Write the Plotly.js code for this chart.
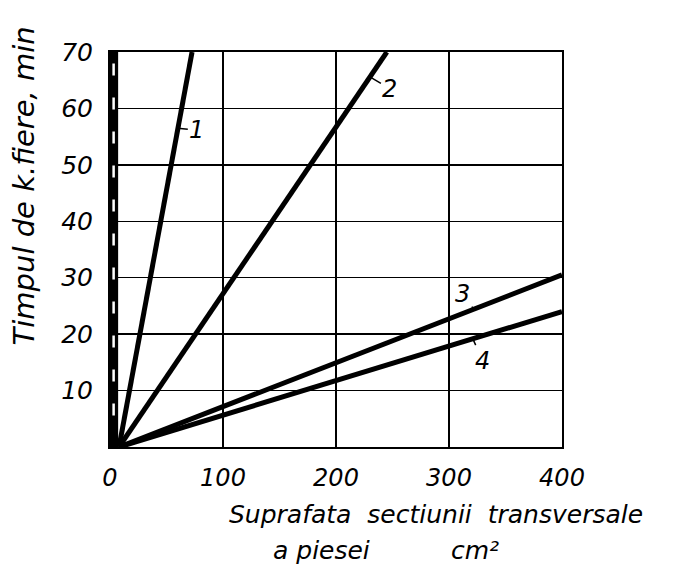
<!DOCTYPE html>
<html><head><meta charset="utf-8">
<script src="https://cdn.plot.ly/plotly-3.0.1.min.js"></script>
<style>body{margin:0;background:#fff}#c{width:677px;height:566px}</style>
</head><body><div id="c"></div>
<script>
// Lines start near x≈8 cm², t=0 and end at the frame
const line1X = [8, 72.6];
const line1Y = [0, 70];
const line2X = [8, 245];
const line2Y = [0, 70];
const line3X = [8, 400];
const line3Y = [0, 30.5];
const line4X = [8, 400];
const line4Y = [0, 24];
const xTicks = [0, 100, 200, 300, 400];
const yTicks = [10, 20, 30, 40, 50, 60, 70];
const lineLabels = ['1', '2', '3', '4'];
const labelPts = [[60, 56.5], [230, 65.6], [322, 24.4], [321, 19.2]];

const font = {family: 'DejaVu Sans', color: '#000'};
const mk = (x, y) => ({x, y, type: 'scatter', mode: 'lines', line: {color: '#000', width: 5}, showlegend: false, hoverinfo: 'skip'});
const traces = [mk(line1X, line1Y), mk(line2X, line2Y), mk(line3X, line3Y), mk(line4X, line4Y)];

const offs = [[19, 2], [20, 12], [-11, -15], [10, 22]];
const annotations = lineLabels.map((t, i) => ({
  x: labelPts[i][0], y: labelPts[i][1], xref: 'x', yref: 'y', text: '<i>' + t + '</i>',
  showarrow: true, arrowhead: 0, arrowwidth: 1.5, arrowcolor: '#000', ax: offs[i][0], ay: offs[i][1],
  standoff: 0, font: Object.assign({}, font, {size: 24})
}));
annotations.push({xref: 'paper', yref: 'paper', x: -0.19, y: 0.66, xanchor: 'center', yanchor: 'middle',
  text: '<i>Timpul de k.fiere, min</i>', textangle: -90, showarrow: false, font: Object.assign({}, font, {size: 29})});
annotations.push({xref: 'paper', yref: 'paper', x: 0.258, y: -0.172, xanchor: 'left', yanchor: 'middle',
  text: '<i>Suprafata  sectiunii  transversale</i>', showarrow: false, font: Object.assign({}, font, {size: 25})});
annotations.push({xref: 'paper', yref: 'paper', x: 0.356, y: -0.262, xanchor: 'left', yanchor: 'middle',
  text: '<i>a piesei</i>', showarrow: false, font: Object.assign({}, font, {size: 25})});
annotations.push({xref: 'paper', yref: 'paper', x: 0.75, y: -0.262, xanchor: 'left', yanchor: 'middle',
  text: '<i>cm²</i>', showarrow: false, font: Object.assign({}, font, {size: 25})});

const layout = {
  width: 677, height: 566,
  margin: {l: 110, r: 115, t: 52, b: 119},
  paper_bgcolor: '#fff', plot_bgcolor: '#fff',
  xaxis: {range: [0, 400], tickvals: xTicks, ticktext: xTicks.map(v => '<i>' + v + '</i>'),
    showgrid: true, gridcolor: '#000', gridwidth: 1.5, zeroline: false,
    showline: true, linecolor: '#000', linewidth: 2, mirror: true, ticks: '', ticklabelstandoff: 8,
    tickfont: Object.assign({}, font, {size: 24})},
  yaxis: {range: [0, 70], tickvals: yTicks, ticktext: yTicks.map(v => '<i>' + v + '</i>'),
    showgrid: true, gridcolor: '#000', gridwidth: 1.5, zeroline: false,
    showline: true, linecolor: '#000', linewidth: 2, mirror: true, ticks: '', ticklabelstandoff: 10,
    tickfont: Object.assign({}, font, {size: 25})},
  shapes: [
    {type: 'rect', xref: 'paper', yref: 'paper', x0: -0.001, x1: 0.018, y0: 0, y1: 1, fillcolor: '#000', line: {width: 0}},
    {type: 'line', xref: 'paper', yref: 'paper', x0: 0.008, x1: 0.008, y0: 0.08, y1: 0.99, line: {color: '#fff', width: 2.5, dash: '12px,22px'}}
  ],
  annotations
};
Plotly.newPlot('c', traces, layout, {displayModeBar: false, staticPlot: true});
</script></body></html>
